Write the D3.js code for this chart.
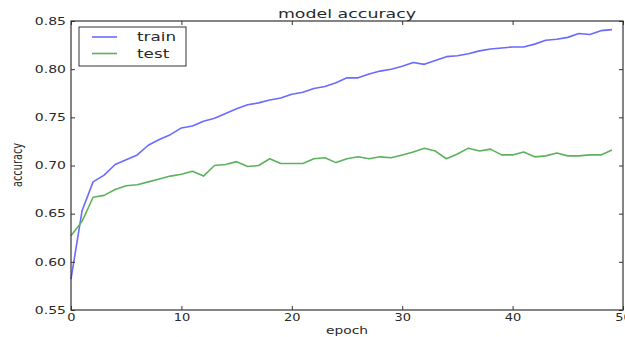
<!DOCTYPE html>
<html>
<head>
<meta charset="utf-8">
<script src="https://cdn.jsdelivr.net/npm/d3@7"></script>
<style>
  html, body { margin: 0; padding: 0; background: #fff; }
  svg { display: block; }
  text { font-family: "DejaVu Sans", sans-serif; fill: #2a2a2a; }
</style>
</head>
<body>
<svg id="chart" width="625" height="337"></svg>
<script>
const epochs = d3.range(0, 50);
const trainAcc = [0.582, 0.653, 0.683, 0.690, 0.701, 0.706, 0.711, 0.721, 0.727, 0.732,
                  0.739, 0.741, 0.746, 0.749, 0.754, 0.759, 0.763, 0.765, 0.768, 0.770,
                  0.774, 0.776, 0.780, 0.782, 0.786, 0.791, 0.791, 0.795, 0.798, 0.800,
                  0.803, 0.807, 0.805, 0.809, 0.813, 0.814, 0.816, 0.819, 0.821, 0.822,
                  0.823, 0.823, 0.826, 0.830, 0.831, 0.833, 0.837, 0.836, 0.840, 0.841];
const testAcc  = [0.627, 0.642, 0.667, 0.669, 0.675, 0.679, 0.680, 0.683, 0.686, 0.689,
                  0.691, 0.694, 0.689, 0.700, 0.701, 0.704, 0.699, 0.700, 0.707, 0.702,
                  0.702, 0.702, 0.707, 0.708, 0.703, 0.707, 0.709, 0.707, 0.709, 0.708,
                  0.711, 0.714, 0.718, 0.715, 0.707, 0.712, 0.718, 0.715, 0.717, 0.711,
                  0.711, 0.714, 0.709, 0.710, 0.713, 0.710, 0.710, 0.711, 0.711, 0.716];
const xTicks = [0, 10, 20, 30, 40, 50];
const yTicks = [0.55, 0.60, 0.65, 0.70, 0.75, 0.80, 0.85];
const seriesNames = ["train", "test"];
const seriesColors = ["#6a6aff", "#5cb25c"];
const titleText = "model accuracy";
const xLabel = "epoch";
const yLabel = "accuracy";

const svg = d3.select("#chart");
const L = 71, R = 623, T = 21, B = 310;
const x = d3.scaleLinear().domain([0, 50]).range([L, R]);
const y = d3.scaleLinear().domain([0.55, 0.85]).range([B, T]);

function stretch(sel, sx) {
  sel.each(function() {
    const t = d3.select(this);
    const tx = +t.attr("x") || 0;
    const ty = +t.attr("y") || 0;
    t.attr("x", 0).attr("y", 0)
     .attr("transform", `translate(${tx},${ty}) scale(${sx},1)`);
  });
}

// lines
const line = d3.line().x((d, i) => x(epochs[i])).y(d => y(d));
[trainAcc, testAcc].forEach((s, k) => {
  svg.append("path").datum(s)
    .attr("fill", "none")
    .attr("stroke", seriesColors[k])
    .attr("stroke-width", 1.6)
    .attr("stroke-linejoin", "round")
    .attr("d", line);
});

// axes (classic inward ticks on all sides)
const gB = svg.append("g").attr("transform", `translate(0,${B})`)
  .call(d3.axisBottom(x).tickValues(xTicks).tickFormat(d3.format("d")).tickSizeInner(-4).tickSizeOuter(0).tickPadding(4));
const gL = svg.append("g").attr("transform", `translate(${L},0)`)
  .call(d3.axisLeft(y).tickValues(yTicks).tickFormat(d3.format(".2f")).tickSizeInner(-4).tickSizeOuter(0).tickPadding(5));
const gT = svg.append("g").attr("transform", `translate(0,${T})`)
  .call(d3.axisTop(x).tickValues(xTicks).tickFormat("").tickSizeInner(-4).tickSizeOuter(0));
const gR = svg.append("g").attr("transform", `translate(${R},0)`)
  .call(d3.axisRight(y).tickValues(yTicks).tickFormat("").tickSizeInner(-4).tickSizeOuter(0));
[gB, gL, gT, gR].forEach(g => {
  g.select(".domain").remove();
  g.selectAll("line").attr("stroke", "#333").attr("stroke-width", 1);
  g.selectAll("text").attr("fill", "#2a2a2a").style("font-family", "DejaVu Sans").style("font-size", "10px");
});
stretch(gL.selectAll("text"), 1.4);
gB.selectAll("text").each(function() {
  const t = d3.select(this);
  const ty = +t.attr("y");
  t.attr("y", 0).attr("transform", `translate(0,${ty}) scale(1.3,1)`);
});

// frame
svg.append("rect").attr("x", L).attr("y", T).attr("width", R - L).attr("height", B - T)
  .attr("fill", "none").attr("stroke", "#333").attr("stroke-width", 1.2);

// title & labels
svg.append("text").attr("text-anchor", "middle").style("font-size", "12px")
  .attr("transform", `translate(${(L + R) / 2},18) scale(1.45,1)`).text(titleText);
svg.append("text").attr("text-anchor", "middle").style("font-size", "10px")
  .attr("transform", `translate(${(L + R) / 2},334) scale(1.38,1)`).text(xLabel);
svg.append("text").attr("text-anchor", "middle").style("font-size", "9.8px")
  .attr("transform", `translate(22,165) scale(1.4,1) rotate(-90)`).text(yLabel);

// legend
const lg = svg.append("g");
lg.append("rect").attr("x", 79).attr("y", 27).attr("width", 107).attr("height", 39)
  .attr("fill", "#fff").attr("stroke", "#333").attr("stroke-width", 1);
seriesNames.forEach((name, k) => {
  const yy = 37 + k * 16.5;
  lg.append("line").attr("x1", 92).attr("x2", 117).attr("y1", yy).attr("y2", yy)
    .attr("stroke", seriesColors[k]).attr("stroke-width", 1.6);
  lg.append("text").style("font-size", "12px")
    .attr("transform", `translate(137,${yy + 4}) scale(1.4,1)`).text(name);
});
</script>
</body>
</html>
